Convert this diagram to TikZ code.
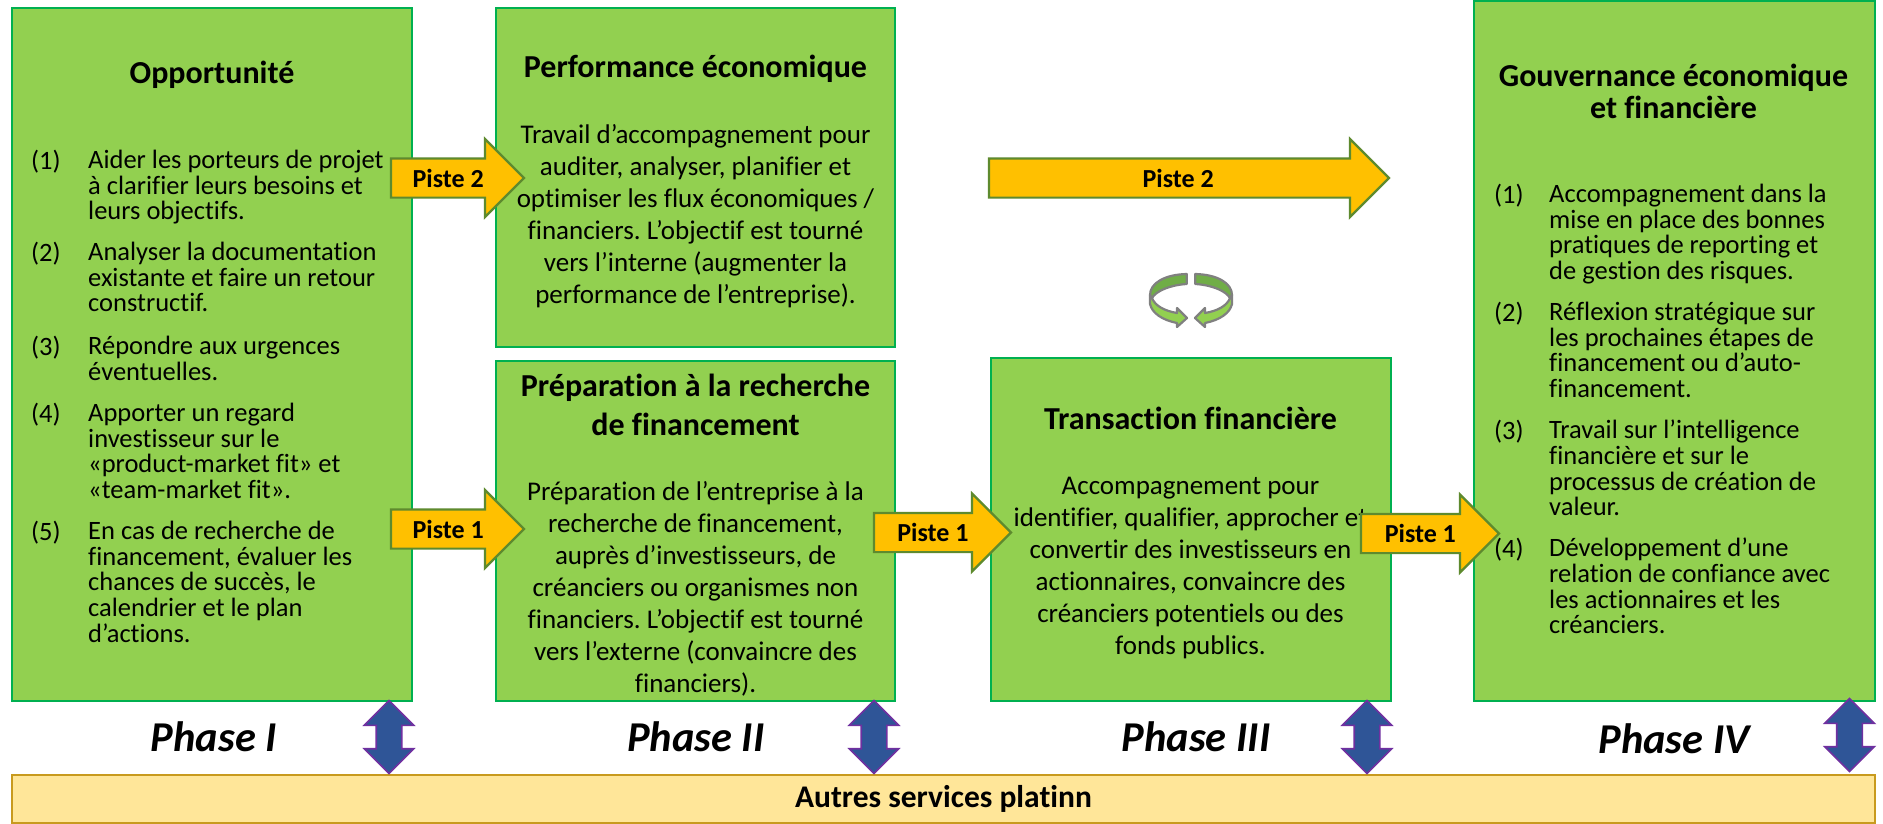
\documentclass[tikz,border=0pt]{standalone}
\usepackage{fontspec}
\setmainfont[Ligatures=NoCommon]{Carlito}
\frenchspacing
\usetikzlibrary{shapes.arrows,calc}
\definecolor{boxgreen}{HTML}{92D050}
\definecolor{boxline}{HTML}{00B050}
\definecolor{pistefill}{HTML}{FFC000}
\definecolor{pisteline}{HTML}{5E8A2E}
\definecolor{svcfill}{HTML}{FFE699}
\definecolor{svcline}{HTML}{C89A1E}
\definecolor{dblfill}{HTML}{2F5597}
\definecolor{dblline}{HTML}{7030A0}
\definecolor{cycdark}{HTML}{70AD47}
\definecolor{cycline}{HTML}{808080}
\tikzset{
  x=1pt,y=-1pt,
  greenbox/.style={draw=boxline,fill=boxgreen,line width=2.4pt},
  boxtitle/.style={align=center,inner sep=0pt,font=\fontsize{32}{39}\selectfont\bfseries,anchor=center},
  bodytext/.style={align=center,inner sep=0pt,font=\fontsize{27}{32}\selectfont,anchor=north},
  listnum/.style={inner sep=0pt,anchor=north west,font=\fontsize{26.5}{25.6}\selectfont},
  listtext/.style={align=left,inner sep=0pt,anchor=north west,font=\fontsize{26.5}{25.6}\selectfont},
  pistearrow/.style={single arrow,draw=pisteline,fill=pistefill,line width=2.2pt,inner sep=0pt,outer sep=0pt,
    text height=24pt,text depth=13pt,text width=0pt,single arrow head extend=19.5pt,single arrow tip angle=90,anchor=tail},
  pistetext/.style={inner sep=0pt,font=\fontsize{26}{30}\selectfont\bfseries},
  dblarrow/.style={double arrow,draw=dblline,fill=dblfill,line width=1.6pt,inner sep=0pt,outer sep=0pt,rotate=90,
    text height=24pt,text depth=0pt,text width=0pt,double arrow head extend=12pt,double arrow tip angle=90,minimum height=73pt},
  phasetext/.style={inner sep=0pt,font=\fontsize{42.5}{48}\selectfont\bfseries\itshape},
  cycleA/.style={draw=cycline,fill=cycdark,line width=2.2pt,line join=round},
  cycleB/.style={draw=cycline,fill=boxgreen,line width=2.2pt,line join=round},
}
\begin{document}
\begin{tikzpicture}
\useasboundingbox (0,0) rectangle (1883,823);
\fill[white] (0,0) rectangle (1883,823);
% boxes
\node[greenbox,minimum width=400pt,minimum height=693pt,inner sep=0pt] (b1) at (212,354.5) {};
\node[greenbox,minimum width=399pt,minimum height=339pt,inner sep=0pt] (b2) at (695.5,177.5) {};
\node[greenbox,minimum width=399pt,minimum height=340pt,inner sep=0pt] (b3) at (695.5,531) {};
\node[greenbox,minimum width=400pt,minimum height=343pt,inner sep=0pt] (b4) at (1191,529.5) {};
\node[greenbox,minimum width=401pt,minimum height=700pt,inner sep=0pt] (b5) at (1674.5,351) {};
\node[draw=svcline,fill=svcfill,line width=1.6pt,minimum width=1863pt,minimum height=48pt,inner sep=0pt,font=\fontsize{31.5}{34}\selectfont\bfseries] (svc) at (943.5,799) {Autres services platinn};
% titles
\node[boxtitle] (t1) at (212,75) {Opportunité};
\node[boxtitle] (t2) at (695.5,69) {Performance économique};
\node[boxtitle] (t3) at (695.5,405) {Préparation à la recherche\\de financement};
\node[boxtitle] (t4) at (1190.5,418) {Transaction financière};
\node[boxtitle,font=\fontsize{32}{32}\selectfont\bfseries] (t5) at (1673.5,91.5) {Gouvernance économique\\et financière};
% centered text
\node[bodytext] (x2) at (695.5,124) {Travail d’accompagnement pour\\auditer, analyser, planifier et\\optimiser les flux économiques /\\financiers. L’objectif est tourné\\vers l’interne (augmenter la\\performance de l’entreprise).};
\node[bodytext] (x3) at (695.5,481) {Préparation de l’entreprise à la\\recherche de financement,\\auprès d’investisseurs, de\\créanciers ou organismes non\\financiers. L’objectif est tourné\\vers l’externe (convaincre des\\financiers).};
\node[bodytext] (x4) at (1190.5,477) {Accompagnement pour\\identifier, qualifier, approcher et\\convertir des investisseurs en\\actionnaires, convaincre des\\créanciers potentiels ou des\\fonds publics.};
% left list
\node[listnum] (n11) at (31,150) {(1)};
\node[listtext] (l11) at (88,150) {Aider les porteurs de projet\\à clarifier leurs besoins et\\leurs objectifs.};
\node[listnum] (n12) at (31,242) {(2)};
\node[listtext] (l12) at (88,242) {Analyser la documentation\\existante et faire un retour\\constructif.};
\node[listnum] (n13) at (31,336) {(3)};
\node[listtext] (l13) at (88,336) {Répondre aux urgences\\éventuelles.};
\node[listnum] (n14) at (31,403) {(4)};
\node[listtext] (l14) at (88,403) {Apporter un regard\\investisseur sur le\\«product-market fit» et\\«team-market fit».};
\node[listnum] (n15) at (31,521) {(5)};
\node[listtext] (l15) at (88,521) {En cas de recherche de\\financement, évaluer les\\chances de succès, le\\calendrier et le plan\\d’actions.};
% right list
\node[listnum] (n51) at (1494,184) {(1)};
\node[listtext] (l51) at (1549,184) {Accompagnement dans la\\mise en place des bonnes\\pratiques de reporting et\\de gestion des risques.};
\node[listnum] (n52) at (1494,302) {(2)};
\node[listtext] (l52) at (1549,302) {Réflexion stratégique sur\\les prochaines étapes de\\financement ou d’auto-\\financement.};
\node[listnum] (n53) at (1494,420) {(3)};
\node[listtext] (l53) at (1549,420) {Travail sur l’intelligence\\financière et sur le\\processus de création de\\valeur.};
\node[listnum] (n54) at (1494,538) {(4)};
\node[listtext] (l54) at (1549,538) {Développement d’une\\relation de confiance avec\\les actionnaires et les\\créanciers.};
% piste arrows
\node[pistearrow,minimum height=133pt] (a1) at (391,178) {};
\node[pistetext] (a1t) at ($(a1.tail)!.43!(a1.tip)$) {Piste 2};
\node[pistearrow,minimum height=133pt] (a2) at (391,529) {};
\node[pistetext] (a2t) at ($(a2.tail)!.43!(a2.tip)$) {Piste 1};
\node[pistearrow,minimum height=137pt] (a3) at (874,532.5) {};
\node[pistetext] (a3t) at ($(a3.tail)!.43!(a3.tip)$) {Piste 1};
\node[pistearrow,minimum height=138pt] (a4) at (1361,533.5) {};
\node[pistetext] (a4t) at ($(a4.tail)!.43!(a4.tip)$) {Piste 1};
\node[pistearrow,minimum height=400pt] (a5) at (989,178) {};
\node[pistetext] (a5t) at ($(a5.tail)!.473!(a5.tip)$) {Piste 2};
% double arrows
\node[dblarrow] (d1) at (389,737) {};
\node[dblarrow] (d2) at (874,737) {};
\node[dblarrow] (d3) at (1367,737) {};
\node[dblarrow] (d4) at (1849.5,735) {};
% phases
\node[phasetext] (p1) at (214,737) {Phase I};
\node[phasetext] (p2) at (696,737) {Phase II};
\node[phasetext] (p3) at (1196,737) {Phase III};
\node[phasetext] (p4) at (1674,739) {Phase IV};
% cycle icon
\draw[cycleA] (1186.7,274) .. controls (1165,274.5) and (1150,283) .. (1150,295) -- (1152,298) .. controls (1156,291) and (1170,285) .. (1186.7,284) -- cycle;
\draw[cycleA] (1195.3,274) .. controls (1217,274.5) and (1232,283) .. (1232,295) -- (1230,298) .. controls (1226,291) and (1212,285) .. (1195.3,284) -- cycle;
\draw[cycleB] (1150,295) -- (1150,304) .. controls (1152,313) and (1162,320) .. (1177,323) -- (1177,327) -- (1187,318) -- (1177,308) -- (1177,313) .. controls (1165,311) and (1155,306) .. (1152,298) -- cycle;
\draw[cycleB] (1232,295) -- (1232,304) .. controls (1230,313) and (1220,320) .. (1205,323) -- (1205,327) -- (1195,318) -- (1205,308) -- (1205,313) .. controls (1217,311) and (1227,306) .. (1230,298) -- cycle;
\end{tikzpicture}
\end{document}
